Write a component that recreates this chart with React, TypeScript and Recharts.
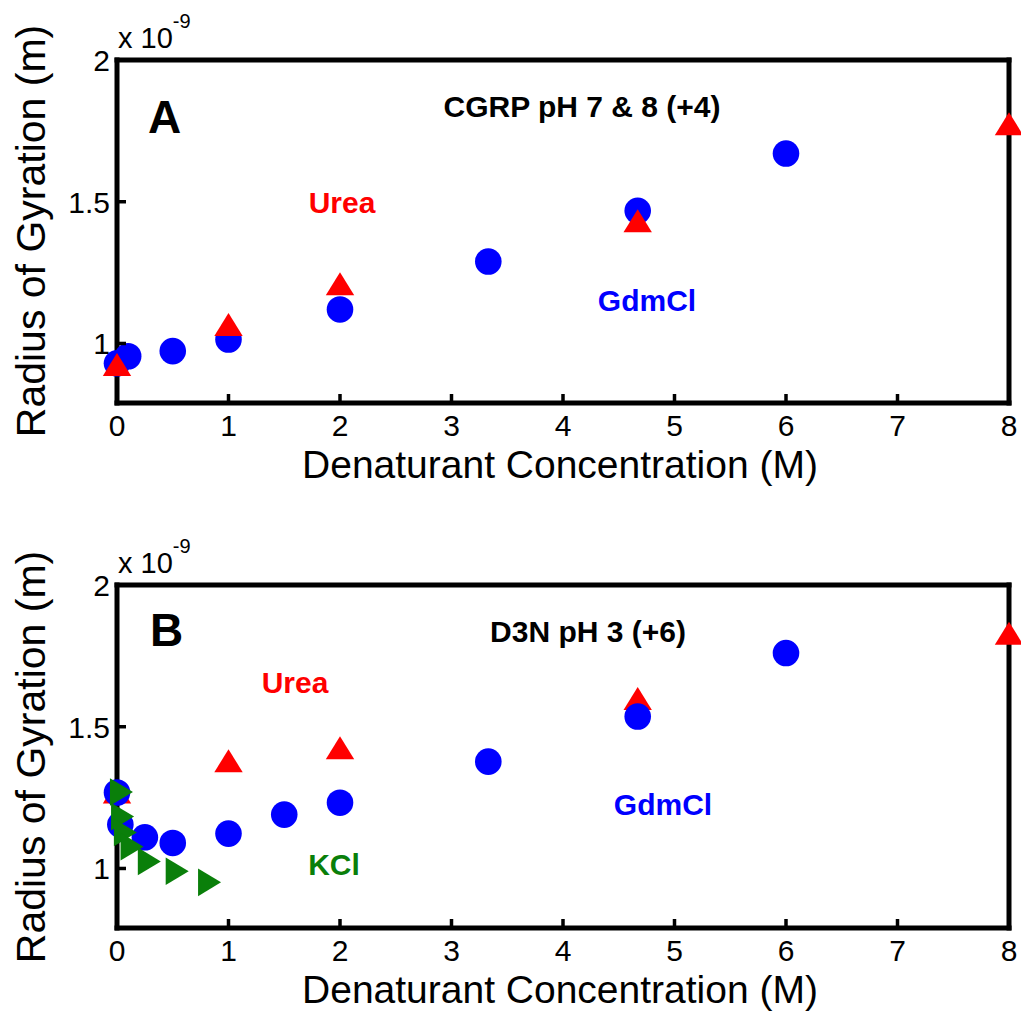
import React from "react";
import { ScatterChart, Scatter, XAxis, YAxis } from "recharts";

// ---- Data (radius of gyration in units of 1e-9 m) ----
const xTicks = [0, 1, 2, 3, 4, 5, 6, 7, 8];
const yTicks = [1, 1.5, 2];
const yTickLabels = ["1", "1.5", "2"];

// Panel A: CGRP pH 7 & 8 (+4)
const gdmX_A = [0, 0.1, 0.5, 1, 2, 3.33, 4.67, 6];
const gdmY_A = [0.93, 0.955, 0.973, 1.014, 1.12, 1.289, 1.468, 1.67];
const ureaX_A = [0, 1, 2, 4.67, 8];
const ureaY_A = [0.926, 1.067, 1.211, 1.433, 1.775];

// Panel B: D3N pH 3 (+6)
const gdmX_B = [0, 0.03, 0.25, 0.5, 1, 1.5, 2, 3.33, 4.67, 6];
const gdmY_B = [1.268, 1.155, 1.11, 1.09, 1.123, 1.19, 1.232, 1.377, 1.536, 1.76];
const ureaX_B = [0, 1, 2, 4.67, 8];
const ureaY_B = [1.27, 1.38, 1.426, 1.6, 1.83];
const kclX_B = [0.04, 0.05, 0.075, 0.135, 0.29, 0.54, 0.83];
const kclY_B = [1.27, 1.183, 1.127, 1.077, 1.025, 0.99, 0.951];

const zip = (xs: number[], ys: number[]) => xs.map((x, i) => ({ x, y: ys[i] }));

const FONT = "'Liberation Sans', Arial, Helvetica, sans-serif";
const BLUE = "#0000ff";
const RED = "#ff0000";
const GREEN = "#0a7f0a";

const CircleMark = (p: any) => <circle cx={p.cx} cy={p.cy} r={13.3} fill={BLUE} />;
const TriUp = (p: any) => {
  const { cx, cy } = p;
  return <polygon points={`${cx - 14.2},${cy + 11.5} ${cx + 14.2},${cy + 11.5} ${cx},${cy - 11.5}`} fill={RED} />;
};
const TriRight = (p: any) => {
  const { cx, cy } = p;
  return <polygon points={`${cx - 11.5},${cy - 13.8} ${cx - 11.5},${cy + 13.8} ${cx + 11.5},${cy}`} fill={GREEN} />;
};

const TICK_LEN = 9;
const TICK_W = 3.5;

const BottomTick = (p: any) => (
  <g>
    <line x1={p.x} x2={p.x} y1={p.y} y2={p.y - TICK_LEN} stroke="#000" strokeWidth={TICK_W} />
    <text x={p.x} y={p.y + 33} textAnchor="middle" fontSize={30} fontFamily={FONT} fill="#000">
      {p.payload.value}
    </text>
  </g>
);
const TopTick = (p: any) => (
  <line x1={p.x} x2={p.x} y1={p.y} y2={p.y + TICK_LEN} stroke="#000" strokeWidth={TICK_W} />
);
const LeftTick = (p: any) => {
  const idx = yTicks.indexOf(p.payload.value);
  return (
    <g>
      <line x1={p.x} x2={p.x + TICK_LEN} y1={p.y} y2={p.y} stroke="#000" strokeWidth={TICK_W} />
      <text x={p.x - 7} y={p.y + 11} textAnchor="end" fontSize={30} fontFamily={FONT} fill="#000">
        {idx >= 0 ? yTickLabels[idx] : p.payload.value}
      </text>
    </g>
  );
};
const RightTick = (p: any) => (
  <line x1={p.x} x2={p.x - TICK_LEN} y1={p.y} y2={p.y} stroke="#000" strokeWidth={TICK_W} />
);

const axisLine = { stroke: "#000", strokeWidth: 5, strokeLinecap: "square" as const };

type PanelProps = {
  height: number;
  top: number;
  bottom: number;
  redFirst: boolean;
  gdm: { x: number; y: number }[];
  urea: { x: number; y: number }[];
  kcl?: { x: number; y: number }[];
};

const AX = 1; // axis band size

const Panel = ({ height, top, bottom, redFirst, gdm, urea, kcl }: PanelProps) => {
  const blueS = (
    <Scatter key="g" data={gdm} xAxisId="b" yAxisId="l" shape={CircleMark} isAnimationActive={false} />
  );
  const redS = (
    <Scatter key="u" data={urea} xAxisId="b" yAxisId="l" shape={TriUp} isAnimationActive={false} />
  );
  return (
    <ScatterChart
      width={1021}
      height={height}
      margin={{ top: top - AX, right: 12 - AX, bottom: bottom - AX, left: 117 - AX }}
    >
      <XAxis
        xAxisId="b"
        dataKey="x"
        type="number"
        domain={[0, 8]}
        ticks={xTicks}
        interval={0}
        height={AX}
        tickSize={0}
        tickMargin={0}
        tickLine={false}
        axisLine={axisLine}
        tick={BottomTick}
      />
      <XAxis
        xAxisId="t"
        orientation="top"
        dataKey="x"
        type="number"
        domain={[0, 8]}
        ticks={xTicks}
        interval={0}
        height={AX}
        tickSize={0}
        tickMargin={0}
        tickLine={false}
        axisLine={axisLine}
        tick={TopTick}
      />
      <YAxis
        yAxisId="l"
        dataKey="y"
        type="number"
        domain={[0.79, 2]}
        ticks={yTicks}
        interval={0}
        width={AX}
        tickSize={0}
        tickMargin={0}
        tickLine={false}
        axisLine={axisLine}
        tick={LeftTick}
      />
      <YAxis
        yAxisId="r"
        orientation="right"
        dataKey="y"
        type="number"
        domain={[0.79, 2]}
        ticks={yTicks}
        interval={0}
        width={AX}
        tickSize={0}
        tickMargin={0}
        tickLine={false}
        axisLine={axisLine}
        tick={RightTick}
      />
      {redFirst ? [redS, blueS] : [blueS, redS]}
      {kcl ? (
        <Scatter data={kcl} xAxisId="b" yAxisId="l" shape={TriRight} isAnimationActive={false} />
      ) : null}
    </ScatterChart>
  );
};

const T = (props: any) => <text fontFamily={FONT} {...props} />;

const Overlay = () => (
  <svg
    width={1021}
    height={1012}
    style={{ position: "absolute", left: 0, top: 0, pointerEvents: "none" }}
  >
    {/* Panel A */}
    <T x={118} y={48} fontSize={29}>
      x 10
      <tspan fontSize={20} dy={-20}>-9</tspan>
    </T>
    <T x={148} y={133} fontSize={46} fontWeight="bold">A</T>
    <T x={582} y={117} fontSize={30} fontWeight="bold" textAnchor="middle">CGRP pH 7 &amp; 8 (+4)</T>
    <T x={342} y={213} fontSize={30} fontWeight="bold" textAnchor="middle" fill={RED}>Urea</T>
    <T x={647} y={311} fontSize={30} fontWeight="bold" textAnchor="middle" fill={BLUE}>GdmCl</T>
    <T x={45} y={231} fontSize={41} textAnchor="middle" transform="rotate(-90 45 231)">Radius of Gyration (m)</T>
    <T x={560} y={478} fontSize={39} textAnchor="middle">Denaturant Concentration (M)</T>

    {/* Panel B */}
    <T x={118} y={573} fontSize={29}>
      x 10
      <tspan fontSize={20} dy={-20}>-9</tspan>
    </T>
    <T x={150} y={646} fontSize={46} fontWeight="bold">B</T>
    <T x={588} y={642} fontSize={30} fontWeight="bold" textAnchor="middle">D3N pH 3 (+6)</T>
    <T x={295} y={693} fontSize={30} fontWeight="bold" textAnchor="middle" fill={RED}>Urea</T>
    <T x={663} y={815} fontSize={30} fontWeight="bold" textAnchor="middle" fill={BLUE}>GdmCl</T>
    <T x={334} y={875} fontSize={30} fontWeight="bold" textAnchor="middle" fill={GREEN}>KCl</T>
    <T x={45} y={757} fontSize={41} textAnchor="middle" transform="rotate(-90 45 757)">Radius of Gyration (m)</T>
    <T x={560} y={1003} fontSize={39} textAnchor="middle">Denaturant Concentration (M)</T>
  </svg>
);

export default function App() {
  return (
    <div style={{ position: "absolute", left: 0, top: 0, width: 1021, height: 1012, background: "#fff" }}>
      <div style={{ position: "absolute", left: 0, top: 0 }}>
        <Panel
          height={500}
          top={60}
          bottom={97}
          redFirst={false}
          gdm={zip(gdmX_A, gdmY_A)}
          urea={zip(ureaX_A, ureaY_A)}
        />
      </div>
      <div style={{ position: "absolute", left: 0, top: 500 }}>
        <Panel
          height={512}
          top={85}
          bottom={84}
          redFirst={true}
          gdm={zip(gdmX_B, gdmY_B)}
          urea={zip(ureaX_B, ureaY_B)}
          kcl={zip(kclX_B, kclY_B)}
        />
      </div>
      <Overlay />
    </div>
  );
}
